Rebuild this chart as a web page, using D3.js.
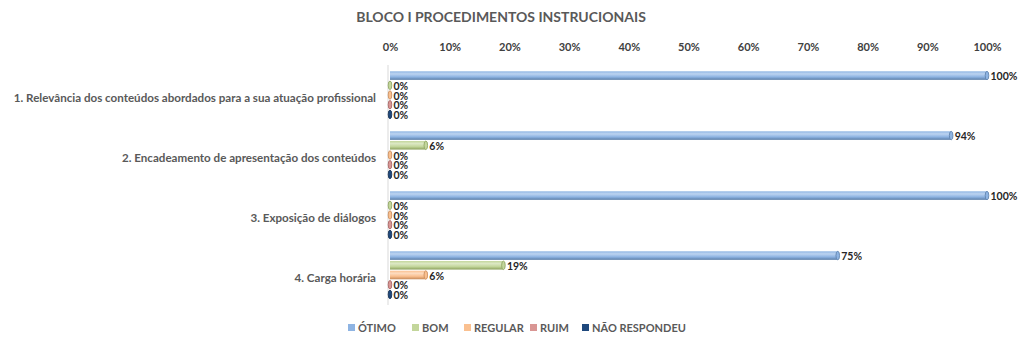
<!DOCTYPE html>
<html>
<head>
<meta charset="utf-8">
<script src="https://cdn.jsdelivr.net/npm/d3@7"></script>
<style>
  html, body { margin: 0; padding: 0; background: #fff; }
  svg { display: block; font-family: Lato, "Open Sans", sans-serif; }
</style>
</head>
<body>
<svg id="chart" width="1024" height="347"></svg>
<script>
// Survey block: share of answers per item
const categories = [
  "1. Relevância dos conteúdos abordados para a sua atuação profissional",
  "2. Encadeamento de apresentação dos conteúdos",
  "3. Exposição de diálogos",
  "4. Carga horária"
];
const seriesNames = ["ÓTIMO", "BOM", "REGULAR", "RUIM", "NÃO RESPONDEU"];
const otimo = [100, 94, 100, 75];
const bom = [0, 6, 0, 19];
const regular = [0, 0, 0, 6];
const ruim = [0, 0, 0, 0];
const naoRespondeu = [0, 0, 0, 0];
const tickValues = [0, 10, 20, 30, 40, 50, 60, 70, 80, 90, 100];

const seriesValues = [otimo, bom, regular, ruim, naoRespondeu];
// fill: light top, mid body, dark lower edge
const palette = [
  { light: "#BCD3F0", mid: "#8EB4E3", dark: "#5A7DA8", legend: "#8EB4E3" },
  { light: "#DCE8C4", mid: "#C3D69B", dark: "#8CA15E", legend: "#C3D69B" },
  { light: "#FDDCC0", mid: "#FAC090", dark: "#C68A5A", legend: "#FAC090" },
  { light: "#EBC0BF", mid: "#D99694", dark: "#A3605E", legend: "#D99694" },
  { light: "#4D6F9C", mid: "#1F497D", dark: "#132D4E", legend: "#1F497D" }
];

const svg = d3.select("#chart");

const x = d3.scaleLinear().domain([0, 100]).range([390, 987]);
const y0 = d3.scaleBand().domain(categories).range([65, 305]).paddingInner(0).paddingOuter(0);
const y1 = d3.scaleBand().domain(seriesNames).range([0, y0.bandwidth()]).paddingOuter(0.65).paddingInner(0.12);

const defs = svg.append("defs");
palette.forEach((p, i) => {
  const g = defs.append("linearGradient").attr("id", "grad" + i)
    .attr("x1", 0).attr("y1", 0).attr("x2", 0).attr("y2", 1);
  g.append("stop").attr("offset", "0%").attr("stop-color", p.mid);
  g.append("stop").attr("offset", "30%").attr("stop-color", p.light);
  g.append("stop").attr("offset", "65%").attr("stop-color", p.mid);
  g.append("stop").attr("offset", "100%").attr("stop-color", p.dark);
});

// Title
svg.append("text")
  .attr("x", 501).attr("y", 22)
  .attr("text-anchor", "middle")
  .attr("font-size", 14).attr("font-weight", "bold")
  .attr("fill", "#595959")
  .text("BLOCO I PROCEDIMENTOS INSTRUCIONAIS");

// Top axis with percentage ticks
const xAxis = d3.axisTop(x).tickValues(tickValues).tickFormat(d => d + "%").tickSize(0).tickPadding(0);
const axG = svg.append("g").attr("transform", "translate(0,51)").call(xAxis);
axG.select(".domain").remove();
axG.selectAll("text")
  .attr("font-family", "Lato, sans-serif")
  .attr("font-size", 11).attr("font-weight", "bold").attr("fill", "#404040");

// Vertical category axis line
svg.append("line")
  .attr("x1", 388).attr("x2", 388).attr("y1", 65).attr("y2", 305)
  .attr("stroke", "#D9D9D9").attr("stroke-width", 1);

// Category labels
svg.append("g").selectAll("text").data(categories).join("text")
  .attr("x", 376)
  .attr("y", d => y0(d) + y0.bandwidth() / 2 + 3)
  .attr("dy", "0.35em")
  .attr("text-anchor", "end")
  .attr("font-size", 11.6).attr("font-weight", "bold").attr("fill", "#595959")
  .text(d => d);

// Bars
const rows = [];
categories.forEach((c, ci) => {
  seriesNames.forEach((s, si) => {
    rows.push({ cat: c, series: s, si, value: seriesValues[si][ci] });
  });
});

const bh = y1.bandwidth();
const barG = svg.append("g").selectAll("g").data(rows).join("g")
  .attr("transform", d => `translate(0,${y0(d.cat) + y1(d.series)})`);

barG.append("rect")
  .attr("x", x(0))
  .attr("y", 0)
  .attr("width", d => Math.max(0, x(d.value) - x(0)))
  .attr("height", bh)
  .attr("fill", d => `url(#grad${d.si})`);

// rounded end cap of each bar
barG.append("ellipse")
  .attr("cx", d => x(d.value))
  .attr("cy", bh / 2)
  .attr("rx", 1.8)
  .attr("ry", bh / 2)
  .attr("fill", d => palette[d.si].mid)
  .attr("stroke", d => palette[d.si].dark)
  .attr("stroke-width", 0.8);

// Value labels
barG.append("text")
  .attr("x", d => x(d.value) + 3.5)
  .attr("y", bh / 2 + 1)
  .attr("dy", "0.35em")
  .attr("font-size", 10.5).attr("font-weight", "bold").attr("fill", "#262626")
  .text(d => d.value + "%");

// Legend
const legendX = [348, 412, 464, 530, 582];
const legend = svg.append("g").selectAll("g").data(seriesNames).join("g")
  .attr("transform", (d, i) => `translate(${legendX[i]},328)`);
legend.append("rect")
  .attr("x", 0).attr("y", -4).attr("width", 7).attr("height", 7)
  .attr("fill", (d, i) => palette[i].legend);
legend.append("text")
  .attr("x", 10).attr("y", 0).attr("dy", "0.35em")
  .attr("font-size", 11).attr("font-weight", "bold").attr("fill", "#595959")
  .text(d => d);
</script>
</body>
</html>
